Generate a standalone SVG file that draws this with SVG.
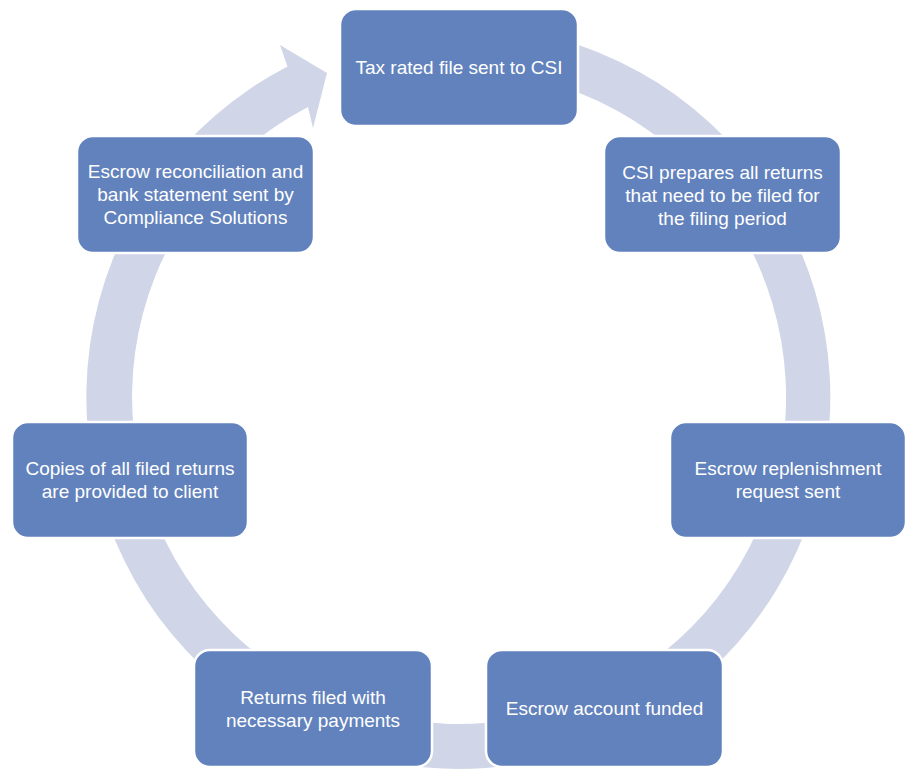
<svg xmlns="http://www.w3.org/2000/svg" width="916" height="777" viewBox="0 0 916 777">
<style>
.node rect{fill:#6282BD;stroke:#FFFFFF;stroke-width:2.5}
.node text{fill:#FFFFFF;font-family:"Liberation Sans",Arial,sans-serif;font-size:19px;text-anchor:middle}
.ring{fill:#D0D6E8}
</style>
<rect width="916" height="777" fill="#FFFFFF"/>
<g id="connectors">
<path class="ring" d="M491.42,26.42 A372,372 0 1,1 287.5,66.5 L280,45 L327,73 L313,128 L308,107 A327,327 0 1,0 487.5,71.25 Z"/>
</g>
<g id="node1" class="node">
<rect x="340" y="9" width="238" height="117" rx="16"/>
<text x="459" y="74">Tax rated file sent to CSI</text>
</g>
<g id="node2" class="node">
<rect x="604" y="136" width="237" height="117" rx="16"/>
<text x="722.5" y="178.5">CSI prepares all returns</text>
<text x="722.5" y="201.5">that need to be filed for</text>
<text x="722.5" y="224.5">the filing period</text>
</g>
<g id="node3" class="node">
<rect x="670" y="422" width="236" height="116" rx="16"/>
<text x="788" y="475">Escrow replenishment</text>
<text x="788" y="498">request sent</text>
</g>
<g id="node4" class="node">
<rect x="486" y="650" width="237" height="117" rx="16"/>
<text x="604.5" y="715">Escrow account funded</text>
</g>
<g id="node5" class="node">
<rect x="194" y="650" width="238" height="117" rx="16"/>
<text x="313" y="703.5">Returns filed with</text>
<text x="313" y="726.5">necessary payments</text>
</g>
<g id="node6" class="node">
<rect x="12" y="422" width="236" height="116" rx="16"/>
<text x="130" y="475">Copies of all filed returns</text>
<text x="130" y="498">are provided to client</text>
</g>
<g id="node7" class="node">
<rect x="77" y="136" width="237" height="117" rx="16"/>
<text x="195.5" y="178">Escrow reconciliation and</text>
<text x="195.5" y="201">bank statement sent by</text>
<text x="195.5" y="224">Compliance Solutions</text>
</g>
</svg>
